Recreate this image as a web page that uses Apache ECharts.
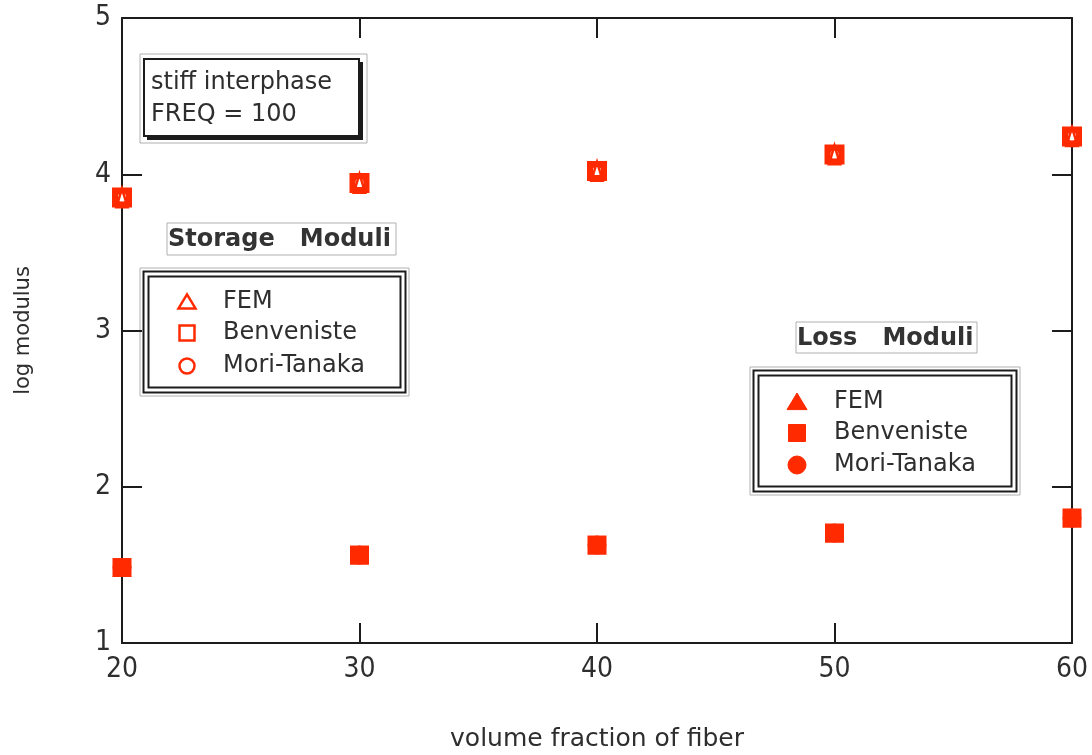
<!DOCTYPE html>
<html>
<head>
<meta charset="utf-8">
<script src="https://cdn.jsdelivr.net/npm/echarts@6/dist/echarts.min.js"></script>
<style>
  html, body { margin: 0; padding: 0; background: #fff; }
  #chart { width: 1092px; height: 755px; }
</style>
</head>
<body>
<div id="chart"></div>
<script>
// Volume fraction of fiber (%)
const fractions = [20, 30, 40, 50, 60];

// Storage moduli (log scale)
const storageFEM        = [3.851, 3.944, 4.021, 4.126, 4.242];
const storageBenveniste = [3.851, 3.944, 4.021, 4.126, 4.242];
const storageMoriTanaka = [3.851, 3.944, 4.021, 4.126, 4.242];

// Loss moduli (log scale)
const lossFEM        = [1.483, 1.563, 1.627, 1.704, 1.800];
const lossBenveniste = [1.483, 1.563, 1.627, 1.704, 1.800];
const lossMoriTanaka = [1.483, 1.563, 1.627, 1.704, 1.800];

const legendNames = ['FEM', 'Benveniste', 'Mori-Tanaka'];
const infoLines = ['stiff interphase', 'FREQ = 100'];

const RED = '#ff2a00';
const INK = '#1c1c1c';
const TXT = '#2e2e2e';
const FONT = '"DejaVu Sans", sans-serif';
const FONT_NUM = '"DejaVu Sans Condensed", "DejaVu Sans", sans-serif';

const pairs = arr => fractions.map((x, i) => [x, arr[i]]);

const chart = echarts.init(document.getElementById('chart'), null, { renderer: 'canvas' });

const tick = { show: true, inside: true, length: 20, lineStyle: { color: INK, width: 2 } };
const line = { show: true, lineStyle: { color: INK, width: 2 } };

// Framed box: thin grey outer rule plus two black rules inside
function frame(x, y, w, h) {
  return [
    { type: 'rect', shape: { x, y, width: w, height: h }, style: { fill: '#fff', stroke: '#b0b0b0', lineWidth: 1 } },
    { type: 'rect', shape: { x: x + 3.5, y: y + 3.5, width: w - 7, height: h - 7 }, style: { fill: 'none', stroke: INK, lineWidth: 2 } },
    { type: 'rect', shape: { x: x + 8.5, y: y + 8.5, width: w - 17, height: h - 17 }, style: { fill: 'none', stroke: INK, lineWidth: 2 } }
  ];
}

function legendSymbol(kind, cx, cy, filled, s) {
  const style = filled ? { fill: RED, stroke: RED, lineWidth: 1 } : { fill: 'none', stroke: RED, lineWidth: 2.5 };
  if (kind === 0) {
    return { type: 'polygon', shape: { points: [[cx, cy - s * 0.45], [cx + s * 0.5, cy + s * 0.38], [cx - s * 0.5, cy + s * 0.38]] }, style };
  }
  if (kind === 1) {
    return { type: 'rect', shape: { x: cx - s / 2, y: cy - s / 2, width: s, height: s }, style };
  }
  return { type: 'circle', shape: { cx, cy, r: s / 2 }, style };
}

function legendBlock(x, y, w, h, symX, textX, rows, filled, sizes) {
  const els = frame(x, y, w, h);
  legendNames.forEach((name, i) => {
    els.push(legendSymbol(i, symX, rows[i], filled, sizes[i]));
    els.push({ type: 'text', x: textX, y: rows[i], style: { text: name, font: '24px ' + FONT, fill: TXT, textVerticalAlign: 'middle' } });
  });
  return els;
}

function titleBox(x, y, w, h, text) {
  return [
    { type: 'rect', shape: { x, y, width: w, height: h }, style: { fill: '#fff', stroke: '#b0b0b0', lineWidth: 1 } },
    { type: 'text', x: x + 1, y: y + h / 2 + 1, style: { text, font: 'bold 24px ' + FONT, fill: '#333', textVerticalAlign: 'middle' } }
  ];
}

const graphics = [].concat(
  // info box with drop shadow
  [
    { type: 'rect', shape: { x: 140, y: 54, width: 227, height: 89 }, style: { fill: '#fff', stroke: '#b0b0b0', lineWidth: 1 } },
    { type: 'rect', shape: { x: 147, y: 62, width: 216, height: 78 }, style: { fill: INK } },
    { type: 'rect', shape: { x: 144, y: 59, width: 215, height: 77 }, style: { fill: '#fff', stroke: INK, lineWidth: 2 } },
    { type: 'text', x: 151, y: 83, style: { text: infoLines[0], font: '24px ' + FONT, fill: TXT, textVerticalAlign: 'middle' } },
    { type: 'text', x: 151, y: 115, style: { text: infoLines[1], font: '24px ' + FONT, fill: TXT, textVerticalAlign: 'middle' } }
  ],
  titleBox(167, 223, 229, 32, 'Storage   Moduli'),
  legendBlock(140, 268, 269, 128, 187, 223, [302, 333, 366], false, [17, 15, 15]),
  titleBox(796, 322, 181, 31, 'Loss   Moduli'),
  legendBlock(750, 367, 270, 128, 797, 834, [402, 433, 465], true, [20, 17, 18])
);

chart.setOption({
  animation: false,
  backgroundColor: '#fff',
  grid: { left: 122, top: 18, width: 950, height: 625, containLabel: false, outerBoundsMode: 'none' },
  xAxis: [
    {
      type: 'value', position: 'bottom', min: 20, max: 60, interval: 10,
      axisLine: line, axisTick: tick, splitLine: { show: false },
      axisLabel: { margin: 13, color: TXT, fontSize: 28, fontFamily: FONT_NUM },
      name: 'volume fraction of fiber', nameLocation: 'middle', nameGap: 84,
      nameTextStyle: { color: TXT, fontSize: 25, fontFamily: FONT }
    },
    {
      type: 'value', position: 'top', min: 20, max: 60, interval: 10,
      axisLine: line, axisTick: tick, splitLine: { show: false }, axisLabel: { show: false }
    }
  ],
  yAxis: [
    {
      type: 'value', position: 'left', min: 1, max: 5, interval: 1,
      axisLine: line, axisTick: tick, splitLine: { show: false },
      axisLabel: { margin: 11, color: TXT, fontSize: 28, fontFamily: FONT_NUM },
      name: 'log modulus', nameLocation: 'middle', nameGap: 88, nameRotate: 90,
      nameTextStyle: { color: TXT, fontSize: 21, fontFamily: FONT }
    },
    {
      type: 'value', position: 'right', min: 1, max: 5, interval: 1,
      axisLine: line, axisTick: tick, splitLine: { show: false }, axisLabel: { show: false }
    }
  ],
  series: [
    // storage moduli: open markers drawn on top of each other
    { name: 'Mori-Tanaka storage', type: 'scatter', data: pairs(storageMoriTanaka), symbol: 'circle', symbolSize: 14,
      itemStyle: { color: '#fff', borderColor: RED, borderWidth: 5, opacity: 1 }, z: 3 },
    { name: 'Benveniste storage', type: 'scatter', data: pairs(storageBenveniste), symbol: 'rect', symbolSize: 14,
      itemStyle: { color: 'rgba(0,0,0,0)', borderColor: RED, borderWidth: 6, opacity: 1 }, z: 4 },
    { name: 'FEM storage', type: 'scatter', data: pairs(storageFEM), symbol: 'triangle', symbolSize: [11, 18],
      itemStyle: { color: 'rgba(0,0,0,0)', borderColor: RED, borderWidth: 3, opacity: 1 }, z: 5 },
    // loss moduli: filled markers
    { name: 'FEM loss', type: 'scatter', data: pairs(lossFEM), symbol: 'triangle', symbolSize: 19,
      itemStyle: { color: RED, opacity: 1 }, z: 3 },
    { name: 'Mori-Tanaka loss', type: 'scatter', data: pairs(lossMoriTanaka), symbol: 'circle', symbolSize: 19,
      itemStyle: { color: RED, opacity: 1 }, z: 4 },
    { name: 'Benveniste loss', type: 'scatter', data: pairs(lossBenveniste), symbol: 'rect', symbolSize: 19,
      itemStyle: { color: RED, opacity: 1 }, z: 5 }
  ],
  graphic: { elements: graphics }
});
</script>
</body>
</html>
